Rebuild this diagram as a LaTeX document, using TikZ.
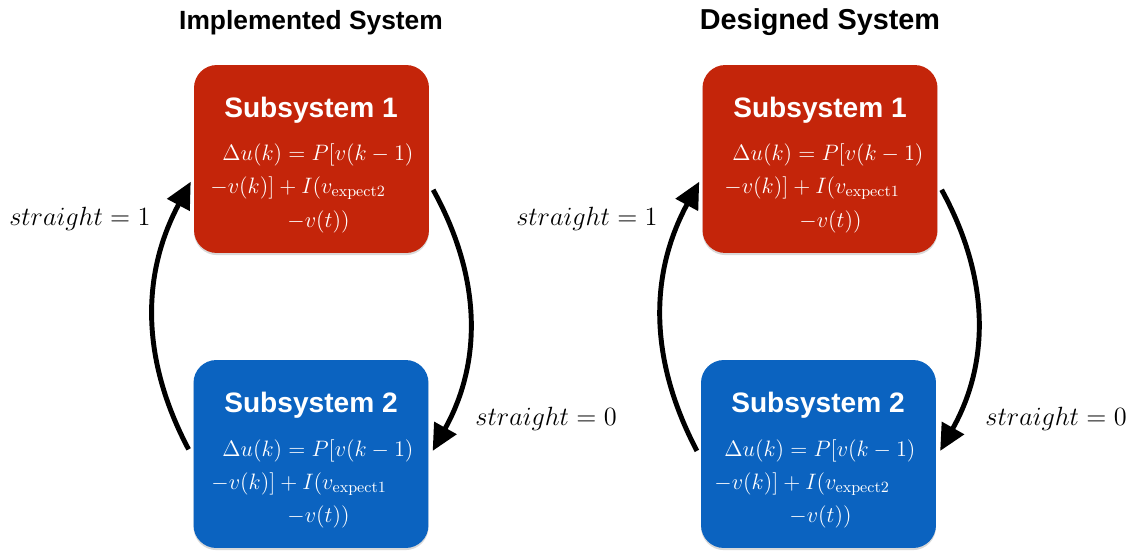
\RequirePackage{fix-cm}
\documentclass[tikz,border=0pt]{standalone}
\usepackage{fontspec}
\newfontfamily\headfont{Liberation Sans}
\usetikzlibrary{arrows.meta,shadows}
\definecolor{subred}{RGB}{196,37,10}
\definecolor{subblue}{RGB}{11,99,192}

\begin{document}
\begin{tikzpicture}[x=0.02cm,y=-0.02cm,line width=2.8pt,>={Triangle[length=15pt,width=14pt]},
  box/.style={rounded corners=13pt,minimum width=4.7cm,minimum height=3.76cm,inner sep=0pt,
    drop shadow={shadow xshift=0pt,shadow yshift=-1.2pt,opacity=0.3}},
  head/.style={font=\headfont\bfseries\fontsize{15}{18}\selectfont,anchor=base,inner sep=0pt},
  sub/.style={text=white,font=\headfont\bfseries\fontsize{16}{19}\selectfont,anchor=base,inner sep=0pt},
  eq/.style={text=white,font=\fontsize{12.7}{15}\selectfont,anchor=base west,inner sep=0pt},
  lab/.style={font=\fontsize{15}{18}\selectfont,inner sep=0pt}]
\useasboundingbox (0,0) rectangle (1139,551);
\node[head] (t1) at (311,30) {Implemented System};
\node[head,font=\headfont\bfseries\fontsize{16.4}{19}\selectfont] (t2) at (820,30) {Designed System};
% left pair
\node[box,fill=subred] (s1) at (311.5,159) {};
\node[box,fill=subblue] (s2) at (311,454) {};
\node[sub] (n1) at (311,117) {Subsystem 1};
\node[eq] (e11) at (220,160) {$\Delta u(k)=P[v(k-1)$};
\node[eq] (e12) at (208,193) {$-v(k)]+I(v_{\mathrm{expect2}}$};
\node[eq] (e13) at (285,227) {$-v(t))$};
\node[sub] (n2) at (311,412) {Subsystem 2};
\node[eq] (e21) at (220,456) {$\Delta u(k)=P[v(k-1)$};
\node[eq] (e22) at (209,489) {$-v(k)]+I(v_{\mathrm{expect1}}$};
\node[eq] (e23) at (285,522) {$-v(t))$};
% right pair
\node[box,fill=subred] (s3) at (820,159) {};
\node[box,fill=subblue] (s4) at (818.5,454) {};
\node[sub] (n3) at (820,117) {Subsystem 1};
\node[eq] (e31) at (730,160) {$\Delta u(k)=P[v(k-1)$};
\node[eq] (e32) at (722,193) {$-v(k)]+I(v_{\mathrm{expect1}}$};
\node[eq] (e33) at (797,227) {$-v(t))$};
\node[sub] (n4) at (818,412) {Subsystem 2};
\node[eq] (e41) at (722,456) {$\Delta u(k)=P[v(k-1)$};
\node[eq] (e42) at (712,489) {$-v(k)]+I(v_{\mathrm{expect2}}$};
\node[eq] (e43) at (787,522) {$-v(t))$};
% switching arrows
\draw[->,shorten <=3pt,shorten >=1pt] (s2.180) to[bend left=28] (s1.190);
\draw[->,shorten <=2pt,shorten >=2pt] (s1.-13) to[bend left=29] (s2.0);
\draw[->,shorten <=2pt,shorten >=1pt] (s4.180) to[bend left=28] (s3.190);
\draw[->,shorten <=2pt,shorten >=2pt] (s3.-13) to[bend left=29] (s4.0);
\node[lab,anchor=base east] (l1) at (153,225) {$straight=1$};
\node[lab,anchor=base west] (l2) at (473,425) {$straight=0$};
\node[lab,anchor=base east] (l3) at (660,225) {$straight=1$};
\node[lab,anchor=base west] (l4) at (983,425) {$straight=0$};
\end{tikzpicture}
\end{document}
